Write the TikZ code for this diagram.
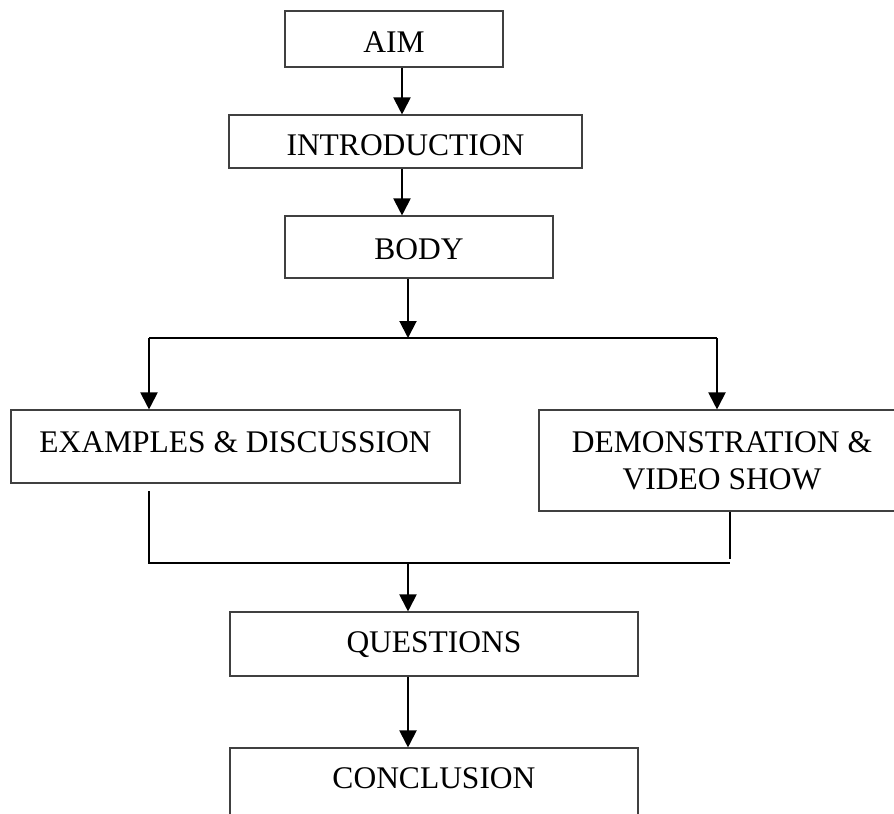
\documentclass[tikz,border=0pt]{standalone}
\usepackage{fontspec}
\setmainfont{Liberation Serif}
\usetikzlibrary{arrows.meta}
\begin{document}
\begin{tikzpicture}[x=1bp,y=-1bp,
  basebox/.style={draw=black!75, line width=1.1bp, inner sep=0pt,
    font=\fontsize{31.5bp}{37bp}\selectfont},
  box/.style={basebox, text height=21bp, text depth=0pt},
  arr/.style={line width=2bp, -{Triangle[length=17bp,width=17bp]}},
  link/.style={line width=1.3bp}]
\useasboundingbox (0,0) rectangle (894,814);
\node[box, text height=27bp, minimum width=218bp, minimum height=56bp] (aim) at (394,39) {AIM};
\node[box, text height=28bp, minimum width=353bp, minimum height=53bp] (intro) at (405.5,141.5) {INTRODUCTION};
\node[box, text height=25bp, minimum width=268bp, minimum height=62bp] (body) at (419,247) {BODY};
\node[box, text depth=9bp, minimum width=449bp, minimum height=73bp] (ex) at (235.5,446.5) {EXAMPLES \& DISCUSSION};
\node[basebox, align=center, minimum width=366bp, minimum height=101bp] (demo) at (722,460.5) {DEMONSTRATION \&\\VIDEO SHOW};
\node[box, text depth=4bp, minimum width=408bp, minimum height=64bp] (quest) at (434,644) {QUESTIONS};
\node[box, text depth=24bp, minimum width=408bp, minimum height=84bp] (conc) at (434,790) {CONCLUSION};
\coordinate (ax) at (402,0);
\coordinate (j1) at (408,338);
\coordinate (jl) at (149,338);
\coordinate (jr) at (717,338);
\coordinate (bl) at (149,491);
\coordinate (bll) at (149,563);
\coordinate (br) at (730,511);
\coordinate (brr) at (730,559);
\coordinate (bj) at (408,563);
\draw[arr] (aim.south -| ax) -- (intro.north -| ax);
\draw[arr] (intro.south -| ax) -- (body.north -| ax);
\draw[arr] (body.south -| j1) -- (j1);
\draw[line width=2bp] (jl) -- (jr);
\draw[arr] (jl) -- (ex.north -| jl);
\draw[arr] (jr) -- (demo.north -| jr);
\draw[link] (bl) -- (bll) -- (bll -| br);
\draw[link] (demo.south -| br) -- (brr);
\draw[arr] (bj) -- (quest.north -| bj);
\draw[arr] (quest.south -| bj) -- (conc.north -| bj);
\end{tikzpicture}
\end{document}
